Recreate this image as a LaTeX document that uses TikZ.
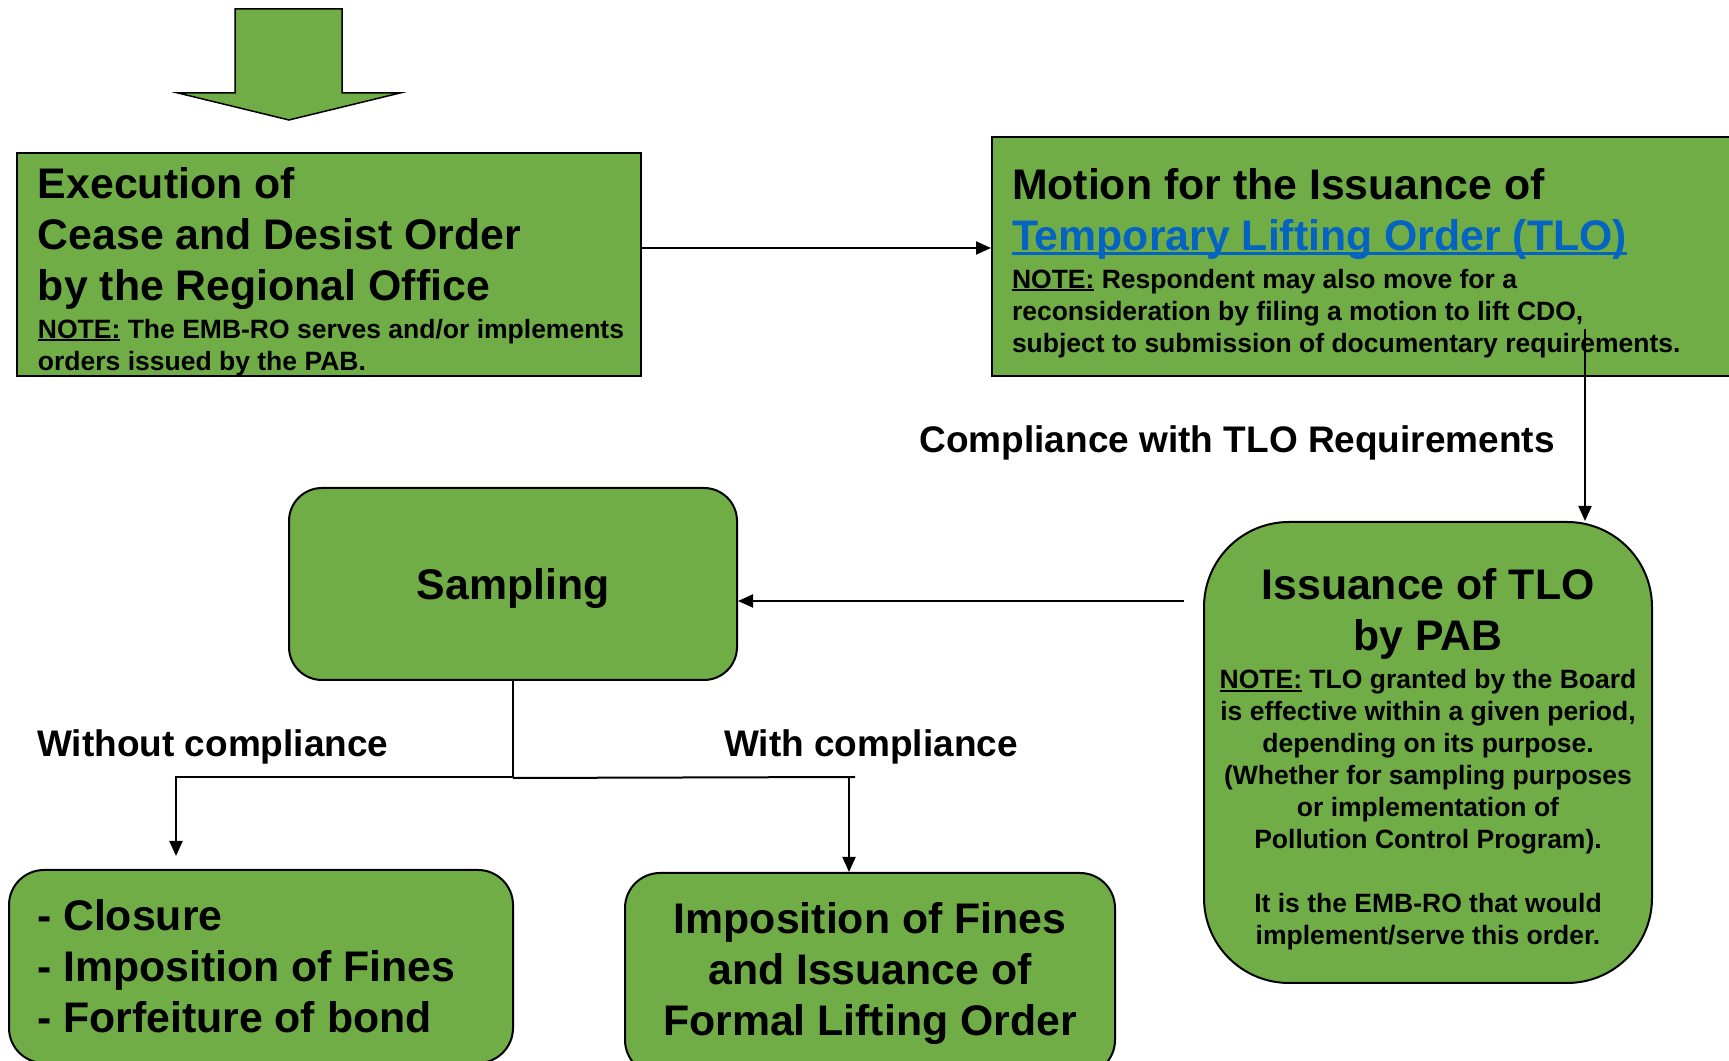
\documentclass[tikz,border=0pt]{standalone}
\usepackage{fontspec}
\setmainfont{Liberation Sans}
\usetikzlibrary{arrows.meta, positioning}
\definecolor{boxgreen}{HTML}{70AD47}
\definecolor{linkblue}{HTML}{0563C1}
\setlength{\parindent}{0pt}
\newcommand{\fixsp}{\spaceskip=\fontdimen2\font\relax\xspaceskip=\fontdimen2\font\relax}
\newcommand{\ttl}{\fontsize{42.8}{51}\selectfont\fixsp}
\newcommand{\nte}{\fontsize{26.5}{32}\selectfont\fixsp}
\newcommand{\lblsize}{\fontsize{37}{44}\selectfont}
\newsavebox{\ulbox}
\newcommand{\uln}[1]{\leavevmode\sbox{\ulbox}{#1}\rlap{\rule[-0.12em]{\wd\ulbox}{0.075em}}\usebox{\ulbox}}
\tikzset{
  sq/.style={draw=black, line width=2pt, fill=boxgreen, font=\bfseries, inner ysep=0pt},
  rnd/.style={draw=black, line width=2pt, fill=boxgreen, font=\bfseries, inner ysep=0pt},
  lbl/.style={font=\bfseries\lblsize, inner sep=0pt},
  flow/.style={-{Triangle[length=15pt, width=13pt]}, line width=2pt},
  line/.style={line width=2pt},
}

\begin{document}
\begin{tikzpicture}[x=1pt, y=1pt]
  \useasboundingbox (0,0) rectangle (1729,1060);
  \clip (0,0) rectangle (1729,1060);

  % block arrow on top
  \draw[line width=1.5pt, fill=boxgreen] (235,1051) -- (342,1051) -- (342,967) -- (400,967)
    -- (289,940) -- (178,967) -- (235,967) -- cycle;

  \node (exec) [sq, minimum width=624pt, minimum height=223pt, text width=600pt, inner xsep=12pt, align=left] at (329,795.5)
    {\leftskip=9pt{\ttl\rule{0pt}{45pt}Execution of\\Cease and Desist Order\\by the Regional Office\par}
     {\nte\vspace*{6pt}\uln{NOTE:} The EMB-RO serves and/or implements\\orders issued by the PAB.\par}};
  \node (motion) [sq, minimum width=800pt, minimum height=239pt, text width=760pt, inner xsep=20pt, align=left] at (1392,803.5)
    {{\ttl\rule{0pt}{44pt}Motion for the Issuance of\\\textcolor{linkblue}{\uln{Temporary Lifting Order (TLO)}}\par}
     {\nte\vspace*{6pt}\uln{NOTE:} Respondent may also move for a\\reconsideration by filing a motion to lift CDO,\\subject to submission of documentary requirements.\par}};
  \node (issue) [rnd, rounded corners=85pt, minimum width=448pt, minimum height=461pt, text width=440pt, inner xsep=4pt, align=center] at (1428,307.5)
    {{\ttl\rule{0pt}{45pt}Issuance of TLO\\by PAB\par}
     {\nte\vspace*{6pt}\uln{NOTE:} TLO granted by the Board\\is effective within a given period,\\depending on its purpose.\\(Whether for sampling purposes\\or implementation of\\Pollution Control Program).\\[32pt]It is the EMB-RO that would\\implement/serve this order.\par}};
  \node (samp) [rnd, rounded corners=33pt, minimum width=448pt, minimum height=192pt, text height=40pt, text depth=8pt] at (513,476) {\ttl Sampling};
  \node (close) [rnd, rounded corners=35pt, minimum width=504pt, minimum height=193pt, text width=448pt, inner xsep=28pt, align=left] at (261,93.5)
    {\ttl - Closure\\- Imposition of Fines\\- Forfeiture of bond\par};
  \node (fines) [rnd, rounded corners=35pt, minimum width=490pt, minimum height=202pt, text width=470pt, inner xsep=10pt, align=center] at (870,86)
    {\ttl Imposition of Fines\\and Issuance of\\Formal Lifting Order\par};

  \node (tloreq) [lbl, anchor=base east] at (1555,607) {Compliance with TLO Requirements};
  \node (nocomp) [lbl, anchor=base west] at (37,303) {Without compliance};
  \node (comp) [lbl, anchor=base west] at (724,303) {With compliance};

  \coordinate (e1) at ([yshift=16.5pt]exec.east);
  \draw[flow] (e1) -- (e1 -| motion.west);

  \coordinate (m1) at ([yshift=48pt]motion.south);
  \coordinate (t1) at ([xshift=157pt]issue.north);
  \draw[flow] (m1 -| t1) -- (t1);

  \coordinate (s1) at ([yshift=-17pt]samp.east);
  \coordinate (i1) at ([xshift=-19pt]issue.west);
  \draw[flow] (i1 |- s1) -- (s1);

  \coordinate (split) at ([yshift=-97pt]samp.south);
  \coordinate (lft) at (176,283);
  \coordinate (rgt) at (855,283);
  \coordinate (rdown) at (849,283);
  \coordinate (cl) at ([yshift=13pt]close.north);
  \draw[flow] (samp.south) |- (lft) -- (lft |- cl);
  \draw[line] (split) -- (rgt);
  \draw[flow] (rdown) -- (rdown |- fines.north);
\end{tikzpicture}
\end{document}
